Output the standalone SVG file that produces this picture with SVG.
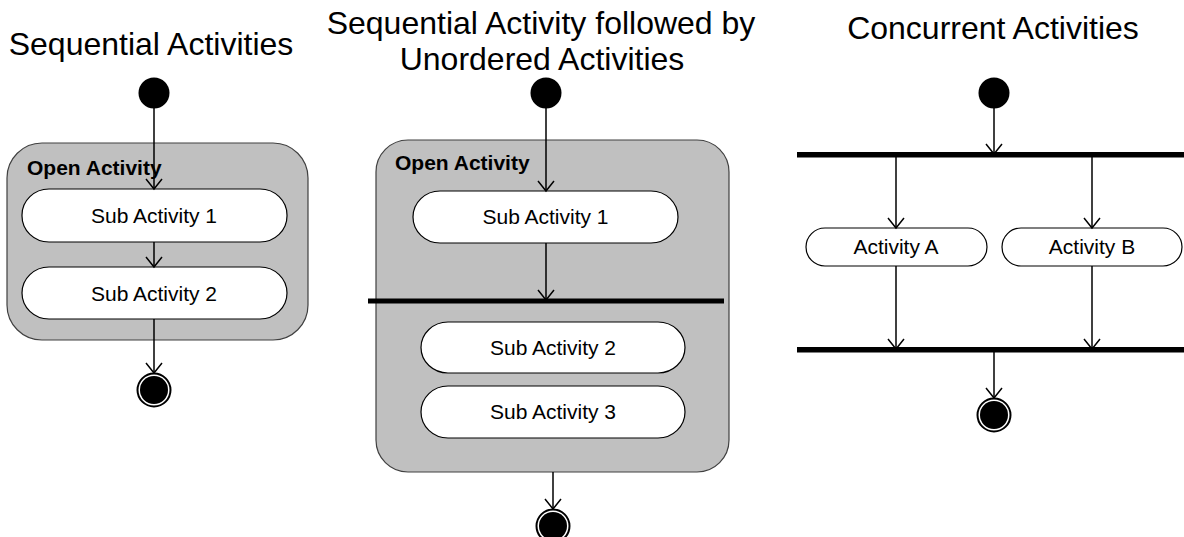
<svg xmlns="http://www.w3.org/2000/svg" width="1184" height="537" viewBox="0 0 1184 537">
<style>
.title{font-family:"Liberation Sans",Arial,sans-serif;font-size:32px;fill:#000;text-anchor:middle}
.lbl{font-family:"Liberation Sans",Arial,sans-serif;font-size:21px;fill:#000;text-anchor:middle}
.open{font-family:"Liberation Sans",Arial,sans-serif;font-size:21px;font-weight:bold;fill:#000}
.comp{fill:#c0c0c0;stroke:#404040;stroke-width:1.2}
.act{fill:#fff;stroke:#000;stroke-width:1.2}
.start{fill:#000}
.endo{fill:#fff;stroke:#000;stroke-width:2}
.endi{fill:#000}
.bar{fill:#000}
.conn{stroke:#000;stroke-width:1.5;fill:none;marker-end:url(#arr)}
</style>
<defs>
<marker id="arr" markerUnits="userSpaceOnUse" markerWidth="24" markerHeight="24" viewBox="-12 -12 24 24" refX="0" refY="0" orient="auto" overflow="visible">
<path d="M -10 -8 L 0 0 L -10 8" fill="none" stroke="#000" stroke-width="1.5"/>
</marker>
</defs>
<rect width="1184" height="537" fill="#fff"/>

<g id="titles">
<text class="title" x="151" y="55">Sequential Activities</text>
<text class="title" x="541" y="34">Sequential Activity followed by</text>
<text class="title" x="542" y="70">Unordered Activities</text>
<text class="title" x="993" y="39">Concurrent Activities</text>
</g>

<!-- Diagram 1 -->
<g id="open1"><rect class="comp" x="7" y="143" width="301" height="197" rx="35" ry="35"/><text class="open" x="27" y="175">Open Activity</text></g>
<g id="start1"><circle class="start" cx="154" cy="93" r="15.5"/></g>
<g id="sub1a"><rect class="act" x="22" y="189" width="265" height="53" rx="27" ry="26"/><text class="lbl" x="154" y="223">Sub Activity 1</text></g>
<g id="sub1b"><rect class="act" x="22" y="267" width="265" height="52" rx="27" ry="26"/><text class="lbl" x="154" y="301">Sub Activity 2</text></g>
<g id="end1"><circle class="endo" cx="154" cy="390" r="16.5"/><circle class="endi" cx="154" cy="390" r="14"/></g>

<!-- Diagram 2 -->
<g id="open2"><rect class="comp" x="376" y="140" width="353" height="332" rx="32" ry="32"/><text class="open" x="395" y="170">Open Activity</text></g>
<g id="start2"><circle class="start" cx="546" cy="93" r="15.5"/></g>
<g id="sub2a"><rect class="act" x="413" y="191" width="265" height="52" rx="27" ry="26"/><text class="lbl" x="545.5" y="224">Sub Activity 1</text></g>
<g id="bar2"><rect class="bar" x="368" y="298.5" width="356" height="5"/></g>
<g id="sub2b"><rect class="act" x="421" y="322" width="264" height="51" rx="27" ry="25.5"/><text class="lbl" x="553" y="355">Sub Activity 2</text></g>
<g id="sub2c"><rect class="act" x="421" y="386" width="264" height="52" rx="27" ry="26"/><text class="lbl" x="553" y="419">Sub Activity 3</text></g>
<g id="end2"><circle class="endo" cx="553" cy="526" r="16.5"/><circle class="endi" cx="553" cy="526" r="14"/></g>

<!-- Diagram 3 -->
<g id="start3"><circle class="start" cx="994" cy="93" r="15.5"/></g>
<g id="fork"><rect class="bar" x="797" y="152" width="387" height="5.5"/></g>
<g id="actA"><rect class="act" x="806" y="228" width="181" height="38" rx="19" ry="19"/><text class="lbl" x="896" y="254">Activity A</text></g>
<g id="actB"><rect class="act" x="1002" y="228" width="180" height="38" rx="19" ry="19"/><text class="lbl" x="1092" y="254">Activity B</text></g>
<g id="join"><rect class="bar" x="797" y="347" width="387" height="5.5"/></g>
<g id="end3"><circle class="endo" cx="994" cy="415" r="16.5"/><circle class="endi" cx="994" cy="415" r="14"/></g>

<g id="connectors">
<line class="conn" x1="154" y1="108" x2="154" y2="189"/>
<line class="conn" x1="154" y1="242" x2="154" y2="267"/>
<line class="conn" x1="154" y1="319" x2="154" y2="373"/>
<line class="conn" x1="546" y1="108" x2="546" y2="191"/>
<line class="conn" x1="546" y1="243" x2="546" y2="300"/>
<line class="conn" x1="553" y1="472" x2="553" y2="509"/>
<line class="conn" x1="994" y1="108" x2="994" y2="154"/>
<line class="conn" x1="896" y1="157" x2="896" y2="228"/>
<line class="conn" x1="1092" y1="157" x2="1092" y2="228"/>
<line class="conn" x1="896" y1="266" x2="896" y2="349"/>
<line class="conn" x1="1092" y1="266" x2="1092" y2="349"/>
<line class="conn" x1="994" y1="352" x2="994" y2="398"/>
</g>
</svg>
